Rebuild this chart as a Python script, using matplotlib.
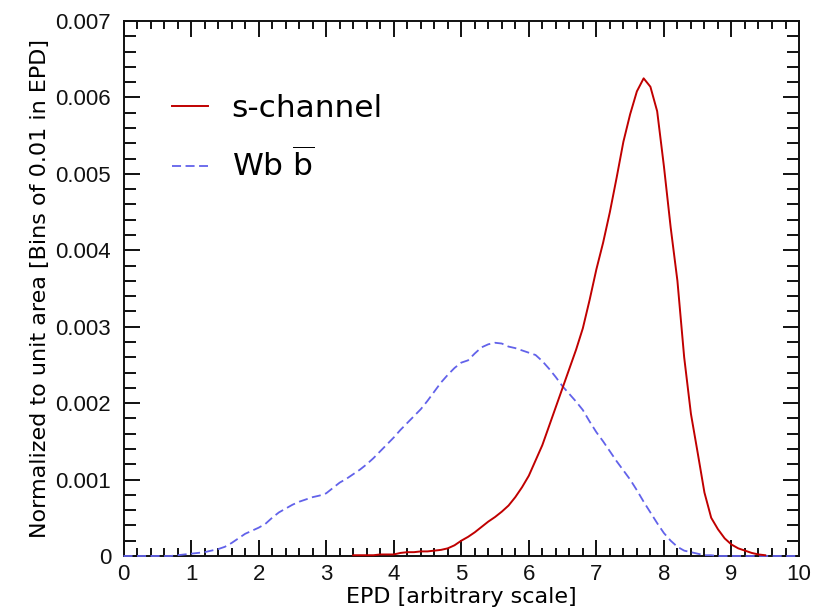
import matplotlib
matplotlib.use("Agg")
import matplotlib.pyplot as plt
from matplotlib.lines import Line2D
from matplotlib.ticker import MultipleLocator

plt.rcParams['font.family'] = ['Liberation Sans', 'DejaVu Sans']
plt.rcParams['mathtext.fontset'] = 'dejavusans'

# Wbbar (blue dashed), EPD values at 0.1 spacing 0..10
wbb_x = [round(0.1 * i, 1) for i in range(101)]
wbb_y = [0, 0, 0, 0, 0, 0, 0, 0, 0.00001, 0.00002,
         0.00003, 0.00004, 0.00005, 0.00007, 0.00009, 0.00012, 0.00017, 0.00023, 0.00029, 0.00033,
         0.00037, 0.00042, 0.00050, 0.00057, 0.00062, 0.00067, 0.00071, 0.00074, 0.00077, 0.00079,
         0.00082, 0.00089, 0.00096, 0.00101, 0.00107, 0.00113, 0.00120, 0.00128, 0.00137, 0.00146,
         0.00155, 0.00165, 0.00174, 0.00183, 0.00192, 0.00203, 0.00215, 0.00227, 0.00237, 0.00246,
         0.00253, 0.00256, 0.00265, 0.00273, 0.00277, 0.00279, 0.00278, 0.00274, 0.00272, 0.00269,
         0.00266, 0.00263, 0.00255, 0.00245, 0.00234, 0.00222, 0.00212, 0.00202, 0.00191, 0.00176,
         0.00162, 0.00150, 0.00137, 0.00124, 0.00112, 0.00100, 0.00086, 0.00071, 0.00057, 0.00043,
         0.00030, 0.00020, 0.00012, 0.00007, 0.00005, 0.00003, 0.00001, 0.00001, 0, 0,
         0, 0, 0, 0, 0, 0, 0, 0, 0, 0, 0]

# s-channel (red solid), EPD 3.4..9.5 at 0.1 spacing
sch_x = [round(3.4 + 0.1 * i, 1) for i in range(62)]
sch_y = [0.00001, 0.00001, 0.00001, 0.00001, 0.00002, 0.00002,
         0.00002, 0.00004, 0.00005, 0.00005, 0.00006, 0.00006, 0.00007, 0.00008, 0.00010, 0.00014,
         0.00020, 0.00025, 0.00031, 0.00038, 0.00045, 0.00051, 0.00058, 0.00066, 0.00077, 0.00090,
         0.00105, 0.00125, 0.00145, 0.00170, 0.00195, 0.00220, 0.00245, 0.00270, 0.00298, 0.00335,
         0.00375, 0.00410, 0.00450, 0.00495, 0.00542, 0.00578, 0.00608, 0.00625, 0.00614, 0.00582,
         0.00510, 0.00430, 0.00360, 0.00260, 0.00186, 0.00135, 0.00083, 0.00050, 0.00035, 0.00023,
         0.00015, 0.00010, 0.00007, 0.00004, 0.00002, 0.00001]

x_ticks = [0, 1, 2, 3, 4, 5, 6, 7, 8, 9, 10]
y_ticks = [0, 0.001, 0.002, 0.003, 0.004, 0.005, 0.006, 0.007]
y_ticklabels = ['0', '0.001', '0.002', '0.003', '0.004', '0.005', '0.006', '0.007']

red = '#c00000'
blue = '#6262ea'
dash = (0, (5, 2.5))

fig = plt.figure(figsize=(8.25, 6.13), dpi=100)
ax = fig.add_axes([0.1497, 0.093, 0.8188, 0.8727])

ax.plot(wbb_x, wbb_y, color=blue, lw=1.3, ls=dash, clip_on=False, zorder=3)
ax.plot(sch_x, sch_y, color=red, lw=1.4, clip_on=False, zorder=4)

ax.set_xlim(0, 10)
ax.set_ylim(0, 0.007)
ax.set_xticks(x_ticks)
ax.set_xticklabels([str(t) for t in x_ticks])
ax.set_yticks(y_ticks)
ax.set_yticklabels(y_ticklabels)
ax.xaxis.set_minor_locator(MultipleLocator(0.2))
ax.yaxis.set_minor_locator(MultipleLocator(0.0002))

ax.tick_params(which='both', direction='in', top=True, right=True, width=1.4, colors='#111111', labelsize=16)
ax.tick_params(axis='x', which='major', length=11.5, pad=6)
ax.tick_params(axis='x', which='minor', length=5.8)
ax.tick_params(axis='y', which='major', length=11.5, pad=9)
ax.tick_params(axis='y', which='minor', length=8.6)
for s in ax.spines.values():
    s.set_linewidth(1.4)
    s.set_color('#111111')

ax.set_xlabel('EPD [arbitrary scale]', fontsize=16, labelpad=1,
              family=['DejaVu Sans'])
ax.set_ylabel('Normalized to unit area [Bins of 0.01 in EPD]', fontsize=16, labelpad=4,
              family=['DejaVu Sans'])

handles = [Line2D([], [], color=red, lw=1.4),
           Line2D([], [], color=blue, lw=1.3, ls=dash)]
labels = ['s-channel', r'Wb $\overline{\mathrm{b}}$']
leg = ax.legend(handles, labels, loc='upper left', bbox_to_anchor=(0.072, 0.864),
                frameon=False, borderpad=0, borderaxespad=0,
                handlelength=1.15, handletextpad=0.75, labelspacing=0.8,
                prop={'family': ['DejaVu Sans'], 'size': 22.5})

fig.savefig('out.png', dpi=100)
